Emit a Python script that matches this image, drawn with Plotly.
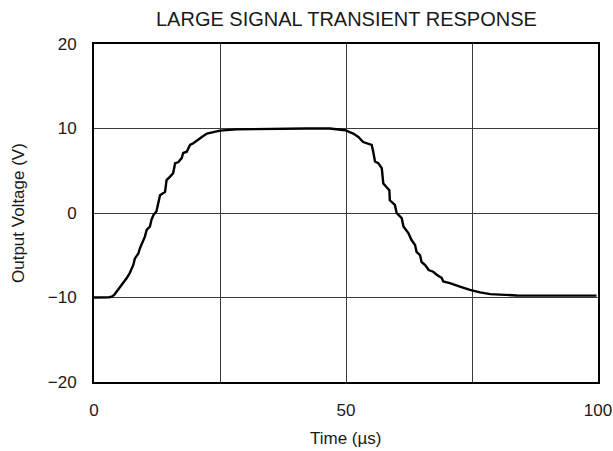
import plotly.graph_objects as go

time_us = [0, 2, 3.0, 3.5, 4.0, 4.5, 5.5, 6.15, 6.5, 7.1, 7.5, 7.8, 8.1, 8.8, 9.1, 9.5, 10.1, 10.45,
           11.1, 11.4, 11.8, 12.4, 12.8, 13.1, 14.1, 14.4, 15.1, 15.7, 16.1, 16.7, 17.4, 17.7,
           18.4, 19.05, 19.7, 20.4, 21.4, 22.4, 24.0, 25.0, 28.3, 35, 42, 46.8, 49.8, 51.45,
           52.45, 53.4, 54.4, 55.1, 55.4, 55.75, 56.4, 57.1, 57.4, 58.1, 58.6, 58.7, 59.7,
           60.05, 61.05, 61.4, 62.4, 63.0, 63.7, 64.0, 64.7, 65.0, 65.7, 66.4, 67.3, 68.0,
           69.0, 69.3, 70.6, 72.6, 74.6, 76.6, 78.6, 83.9, 90, 99.7]
voltage_v = [-10.0, -10.0, -9.97, -9.9, -9.7, -9.3, -8.5, -8.1, -7.7, -7.1, -6.5, -6.15, -5.4, -4.8,
             -4.2, -3.6, -2.8, -2.0, -1.6, -0.8, -0.25, 0.2, 1.2, 2.1, 2.5, 3.9, 4.3, 4.7, 5.9,
             6.0, 6.5, 7.1, 7.25, 8.05, 8.25, 8.6, 9.0, 9.4, 9.6, 9.75, 9.9, 9.97, 10.0, 10.0,
             9.8, 9.4, 9.0, 8.4, 8.2, 8.05, 7.25, 6.1, 5.9, 5.3, 3.5, 3.1, 2.7, 1.5, 0.95, 0.0,
             -0.6, -1.6, -2.4, -3.2, -3.8, -4.6, -5.0, -5.8, -6.15, -6.75, -6.95, -7.3, -7.7,
             -8.1, -8.3, -8.7, -9.1, -9.4, -9.6, -9.76, -9.78, -9.78]

x_ticks = [0, 50, 100]
y_ticks = [-20, -10, 0, 10, 20]
title_text = "LARGE SIGNAL TRANSIENT RESPONSE"
x_title = "Time (µs)"
y_title = "Output Voltage (V)"

W, H = 613, 451
L, R, T, B = 94, 15, 44, 69
pw, ph = W - L - R, H - T - B

fig = go.Figure()
fig.add_trace(go.Scatter(x=time_us, y=voltage_v, mode="lines",
                         line=dict(color="black", width=2.4),
                         showlegend=False, hoverinfo="skip"))

font = dict(family="Liberation Sans, Arial, sans-serif", color="#1a1a1a")
fig.update_layout(
    width=W, height=H,
    margin=dict(l=L, r=R, t=T, b=B, autoexpand=False),
    paper_bgcolor="white", plot_bgcolor="white",
    font=dict(**font, size=16),
    xaxis=dict(range=[0, 100], tickvals=x_ticks, showgrid=True, gridcolor="#3a3a3a", gridwidth=1,
               zeroline=False, showline=True, linecolor="black", linewidth=2,
               mirror=True, ticks="", ticklabelstandoff=12, automargin=False,
               tickfont=dict(**font, size=17)),
    yaxis=dict(range=[-20, 20], tickvals=y_ticks, showgrid=True, gridcolor="#3a3a3a", gridwidth=1,
               zeroline=False, showline=True, linecolor="black", linewidth=2, mirror=True,
               ticks="", ticklabelstandoff=12, automargin=False,
               tickfont=dict(**font, size=17)),
    annotations=[
        dict(text=title_text, xref="paper", yref="paper", x=0.5, y=1 + (T - 19) / ph,
             xanchor="center", yanchor="middle", showarrow=False, font=dict(**font, size=20)),
        dict(text=x_title, xref="paper", yref="paper", x=0.5, y=-(438 - T - ph) / ph,
             xanchor="center", yanchor="middle", showarrow=False, font=dict(**font, size=17)),
        dict(text=y_title, xref="paper", yref="paper", x=-(L - 18) / pw, y=0.5, textangle=-90,
             xanchor="center", yanchor="middle", showarrow=False, font=dict(**font, size=17)),
    ],
)
fig.update_xaxes(minor=dict(tickvals=[25, 75], showgrid=True, gridcolor="#3a3a3a", gridwidth=1, ticks=""))

fig.write_html("out.html", config={"displayModeBar": False},
               post_script="document.body.style.margin='0';document.body.style.padding='0';"
                           "document.body.style.overflow='hidden';")
